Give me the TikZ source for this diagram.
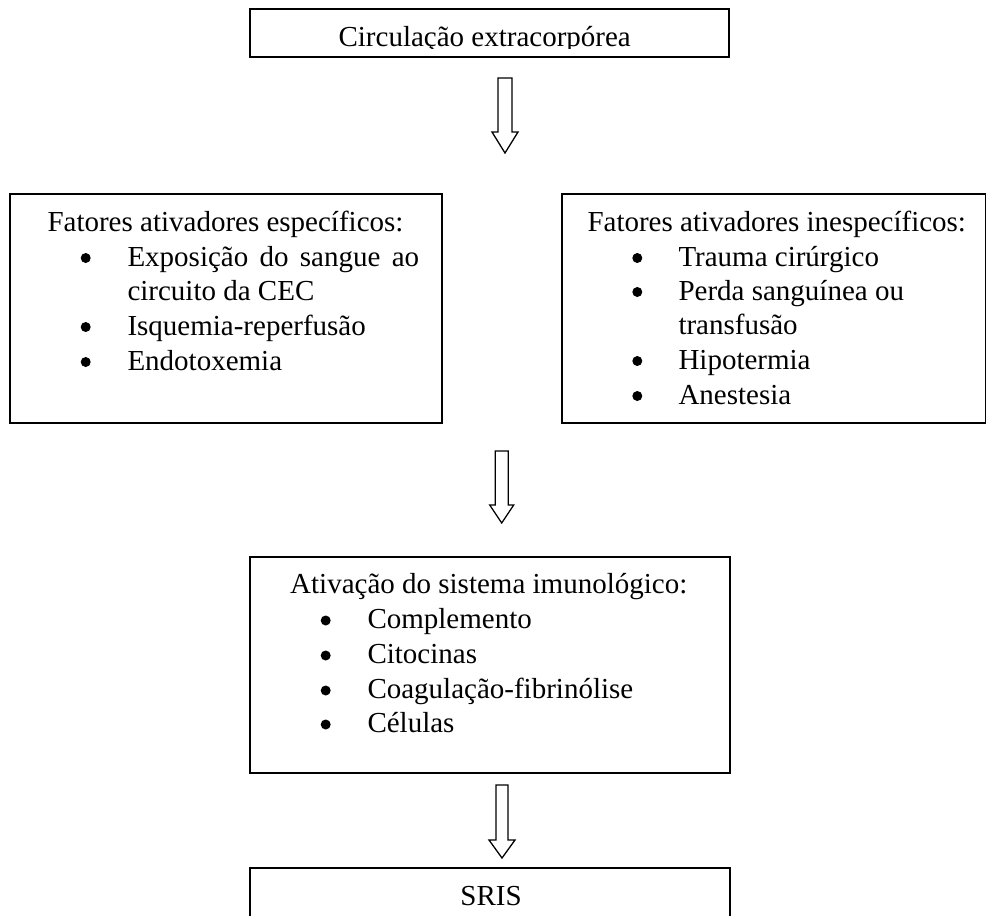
\documentclass[tikz,border=0pt]{standalone}
\usepackage{fontspec}
\setmainfont{Liberation Serif}
\begin{document}
\begin{tikzpicture}[x=1pt,y=-1pt,
  box/.style={draw, line width=1.8pt, anchor=north west, inner sep=0pt, outer sep=0pt},
  txt/.style={anchor=base west, inner sep=0pt, font=\fontsize{29}{35}\selectfont},
  ctxt/.style={anchor=base, inner sep=0pt, font=\fontsize{29}{35}\selectfont},
  bul/.style={circle, fill=black, inner sep=0pt, minimum size=10pt},
  harrow/.style={draw, line width=1.3pt, fill=white, line join=miter}]
\clip (0,0) rectangle (986,916);
\fill[white] (0,0) rectangle (986,916);

% top box
\begin{scope}
  \clip (250,9) rectangle (729,48);
  \node[ctxt] (ttxt) at (484.7,46.5) {Circulação extracorpórea};
\end{scope}
\node[box, minimum width=479pt, minimum height=47.7pt] (tbox) at (250,9) {};

% arrow 1
\coordinate (a1) at (505,78);
\draw[harrow] (a1) ++(-7,0) -- ++(0,54) -- ++(-6,0) -- ++(13,21) -- ++(13,-21) -- ++(-6,0) -- ++(0,-54) -- cycle;

% left box
\node[box, minimum width=432pt, minimum height=229pt] (lbox) at (10,194) {};
\node[txt] (l0) at (47.3,231) {Fatores ativadores específicos:};
\node[bul] (lb1) at (85.7,258) {};
\node[txt] (l1) at (127.3,266) {\makebox[291.7pt][s]{Exposição do sangue ao}};
\node[txt] (l1b) at (127.3,300) {circuito da CEC};
\node[bul] (lb2) at (85.7,327) {};
\node[txt] (l2) at (127.3,335) {Isquemia-reperfusão};
\node[bul] (lb3) at (85.7,362) {};
\node[txt] (l3) at (127.3,370) {Endotoxemia};

% right box
\node[box, minimum width=424pt, minimum height=229pt] (rbox) at (562,194) {};
\node[txt] (r0) at (587.3,231) {Fatores ativadores inespecíficos:};
\node[bul] (rb1) at (637.3,258) {};
\node[txt] (r1) at (678.3,266) {Trauma cirúrgico};
\node[bul] (rb2) at (637.3,292) {};
\node[txt] (r2) at (678.3,300) {Perda sanguínea ou};
\node[txt] (r2b) at (678.3,334) {transfusão};
\node[bul] (rb3) at (637.3,361) {};
\node[txt] (r3) at (678.3,369) {Hipotermia};
\node[bul] (rb4) at (637.3,396) {};
\node[txt] (r4) at (678.3,404) {Anestesia};

% arrow 2
\coordinate (a2) at (501.7,451);
\draw[harrow] (a2) ++(-6.5,0) -- ++(0,54) -- ++(-5.5,0) -- ++(12,18) -- ++(12,-18) -- ++(-5.5,0) -- ++(0,-54) -- cycle;

% middle box
\node[box, minimum width=480pt, minimum height=216pt] (mbox) at (250,557) {};
\node[txt] (m0) at (290,593.3) {Ativação do sistema imunológico:};
\node[bul] (mb1) at (325.7,620.5) {};
\node[txt] (m1) at (367.3,628.3) {Complemento};
\node[bul] (mb2) at (325.7,655.5) {};
\node[txt] (m2) at (367.3,663.3) {Citocinas};
\node[bul] (mb3) at (325.7,690.5) {};
\node[txt] (m3) at (367.3,698.3) {Coagulação-fibrinólise};
\node[bul] (mb4) at (325.7,724.5) {};
\node[txt] (m4) at (367.3,732.3) {Células};

% arrow 3
\coordinate (a3) at (502,785);
\draw[harrow] (a3) ++(-6,0) -- ++(0,55) -- ++(-7,0) -- ++(13,18) -- ++(13,-18) -- ++(-7,0) -- ++(0,-55) -- cycle;

% SRIS box
\node[box, minimum width=480pt, minimum height=60pt] (sbox) at (250,868) {};
\node[ctxt] (stxt) at (491,905) {SRIS};
\end{tikzpicture}
\end{document}
